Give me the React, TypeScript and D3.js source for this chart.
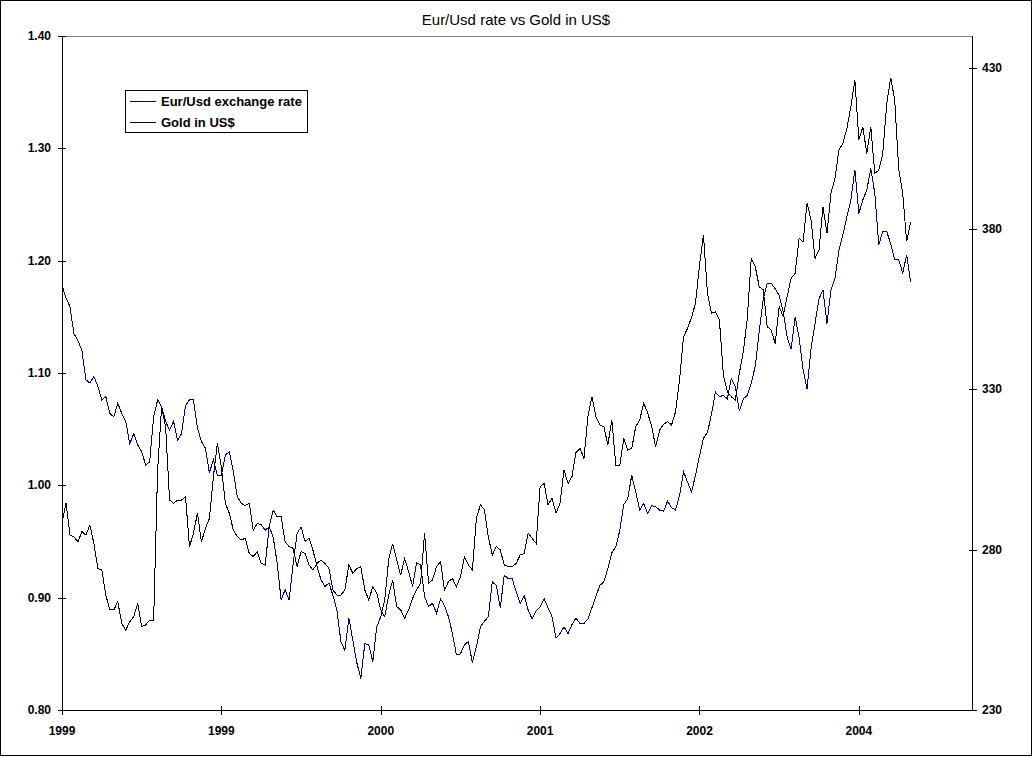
import * as d3 from "d3";

// values, one sample roughly every 4 px (index = sample)
const eurUsd = [
  1.178, 1.167, 1.159, 1.135, 1.129, 1.12, 1.094, 1.091, 1.097, 1.088,
  1.076, 1.079, 1.064, 1.061, 1.073, 1.064, 1.057, 1.037, 1.046, 1.036,
  1.03, 1.018, 1.021, 1.061, 1.076, 1.07, 1.057, 1.049, 1.057, 1.04,
  1.046, 1.071, 1.076, 1.076, 1.051, 1.039, 1.033, 1.011, 1.023, 1.009,
  1.009, 1.027, 1.03, 1.012, 0.99, 0.984, 0.982, 0.984, 0.96, 0.966,
  0.965, 0.96, 0.963, 0.954, 0.931, 0.898, 0.907, 0.898, 0.93, 0.957,
  0.963, 0.95, 0.953, 0.942, 0.928, 0.916, 0.91, 0.913, 0.902, 0.889,
  0.861, 0.853, 0.882, 0.862, 0.842, 0.828, 0.859, 0.858, 0.843, 0.874,
  0.883, 0.898, 0.934, 0.948, 0.934, 0.92, 0.935, 0.923, 0.91, 0.931,
  0.929, 0.901, 0.892, 0.895, 0.886, 0.899, 0.893, 0.883, 0.868, 0.849,
  0.85, 0.858, 0.861, 0.842, 0.856, 0.874, 0.879, 0.883, 0.914, 0.911,
  0.891, 0.92, 0.917, 0.917, 0.905, 0.895, 0.902, 0.889, 0.881, 0.888,
  0.892, 0.899, 0.891, 0.883, 0.864, 0.868, 0.874, 0.868, 0.876, 0.882,
  0.877, 0.877, 0.881, 0.891, 0.901, 0.911, 0.914, 0.926, 0.94, 0.945,
  0.96, 0.983, 0.988, 1.009, 0.994, 0.978, 0.984, 0.975, 0.982, 0.981,
  0.978, 0.977, 0.986, 0.98, 0.978, 0.991, 1.012, 1.003, 0.994, 1.009,
  1.026, 1.042, 1.047, 1.063, 1.083, 1.079, 1.08, 1.077, 1.095, 1.088,
  1.066, 1.077, 1.08, 1.091, 1.106, 1.137, 1.166, 1.18, 1.18, 1.175,
  1.169, 1.155, 1.132, 1.121, 1.15, 1.132, 1.103, 1.086, 1.122, 1.144,
  1.166, 1.174, 1.144, 1.174, 1.184, 1.209, 1.223, 1.239, 1.254, 1.281,
  1.242, 1.254, 1.263, 1.282, 1.26, 1.214, 1.226, 1.226, 1.215, 1.201,
  1.201, 1.189, 1.205, 1.181,
];

const goldUsd = [
  288.2, 294.4, 284.5, 284.0, 282.4, 285.6, 284.5, 287.6, 281.9, 274.1,
  273.6, 265.8, 261.2, 261.2, 263.7, 257.0, 254.9, 257.5, 259.1, 263.2,
  256.0, 256.5, 258.0, 258.0, 304.8, 324.5, 318.3, 295.4, 294.4, 295.4,
  295.4, 296.5, 280.9, 285.1, 291.3, 282.4, 286.6, 289.7, 302.7, 313.1,
  305.8, 294.4, 291.3, 286.1, 284.0, 283.0, 283.5, 278.8, 277.8, 279.3,
  275.7, 275.2, 287.1, 292.3, 290.2, 290.2, 282.4, 280.9, 280.4, 274.7,
  279.3, 278.8, 275.2, 273.6, 275.7, 276.7, 275.7, 274.1, 267.4, 265.8,
  265.8, 267.4, 275.2, 272.6, 274.1, 274.7, 267.4, 264.3, 268.4, 266.4,
  261.2, 259.1, 265.8, 270.5, 262.2, 261.2, 258.6, 261.2, 264.8, 267.4,
  269.5, 285.0, 269.5, 270.5, 274.7, 276.2, 267.4, 270.0, 271.0, 268.4,
  271.5, 277.8, 275.2, 273.6, 289.7, 293.9, 292.5, 284.0, 278.3, 280.9,
  279.9, 275.2, 274.7, 274.7, 275.7, 278.3, 278.8, 285.1, 283.5, 281.9,
  299.6, 300.6, 293.9, 296.0, 291.3, 294.4, 304.8, 300.6, 302.7, 310.2,
  311.5, 308.4, 321.4, 327.6, 321.4, 318.8, 318.3, 312.6, 320.4, 306.3,
  306.3, 314.6, 311.0, 311.5, 318.3, 320.4, 325.5, 322.6, 318.3, 312.0,
  317.2, 319.1, 319.8, 318.8, 323.0, 332.8, 346.3, 348.9, 352.3, 356.7,
  368.6, 378.0, 359.8, 353.6, 354.1, 351.5, 334.4, 329.2, 327.6, 326.6,
  334.9, 341.6, 352.0, 370.7, 368.1, 361.9, 360.9, 349.4, 348.4, 344.2,
  355.7, 352.6, 358.8, 364.5, 366.0, 377.0, 375.9, 387.9, 382.7, 370.7,
  373.3, 386.8, 378.5, 391.0, 395.6, 404.5, 406.6, 411.2, 418.0, 426.3,
  407.6, 411.7, 403.4, 411.7, 397.2, 398.2, 403.4, 419.0, 427.0, 420.1,
  398.5, 391.0, 376.0, 382.0,
];

const xTickLabels = ["1999", "1999", "2000", "2001", "2002", "2004"];
const xTickEvery = 40;
const xSpan = 228.4;
const leftTicks = [0.8, 0.9, 1.0, 1.1, 1.2, 1.3, 1.4];
const rightTicks = [230, 280, 330, 380, 430];
const seriesNames = ["Eur/Usd exchange rate", "Gold in US$"];

const W = 1033;
const H = 757;
const plot = { left: 62, right: 972, top: 36, bottom: 710 };
const font = "'Liberation Sans', Arial, sans-serif";
const navy = "#000080";

export default function App() {
  const x = d3.scaleLinear().domain([0, xSpan]).range([plot.left, plot.right]);
  const yL = d3.scaleLinear().domain([0.8, 1.4]).range([plot.bottom, plot.top]);
  const yR = d3.scaleLinear().domain([230, 440]).range([plot.bottom, plot.top]);

  const eurLine = d3
    .line<number>()
    .x((_, i) => x(i))
    .y((d) => yL(d));
  const goldLine = d3
    .line<number>()
    .x((_, i) => x(i))
    .y((d) => yR(d));

  const xTicks = xTickLabels.map((label, i) => ({ label, v: i * xTickEvery }));

  return (
    <svg
      width={W}
      height={H}
      style={{ position: "absolute", left: 0, top: 0, background: "#fff" }}
      fontFamily={font}
    >
      <rect x={0.5} y={0.5} width={1031} height={755} fill="#fff" stroke="#000" />

      <text x={516} y={25} textAnchor="middle" fontSize={15} fill="#000">
        Eur/Usd rate vs Gold in US$
      </text>

      {/* plot area border */}
      <rect
        x={plot.left + 0.5}
        y={plot.top + 0.5}
        width={plot.right - plot.left}
        height={plot.bottom - plot.top}
        fill="none"
        stroke="#808080"
        shapeRendering="crispEdges"
      />

      {/* series */}
      <path
        d={eurLine(eurUsd) ?? ""}
        fill="none"
        stroke={navy}
        strokeWidth={1}
        shapeRendering="crispEdges"
      />
      <path
        d={goldLine(goldUsd) ?? ""}
        fill="none"
        stroke="#000"
        strokeWidth={1}
        shapeRendering="crispEdges"
      />

      {/* left axis */}
      <g shapeRendering="crispEdges">
        <line x1={plot.left + 0.5} x2={plot.left + 0.5} y1={plot.top} y2={plot.bottom + 1} stroke="#000" />
        {leftTicks.map((t) => (
          <g key={t}>
            <line
              x1={plot.left - 4}
              x2={plot.left + 4}
              y1={Math.round(yL(t)) + 0.5}
              y2={Math.round(yL(t)) + 0.5}
              stroke="#000"
            />
            <text
              x={51}
              y={yL(t) + 4}
              textAnchor="end"
              fontSize={12}
              fontWeight="bold"
              shapeRendering="auto"
            >
              {t.toFixed(2)}
            </text>
          </g>
        ))}
      </g>

      {/* right axis */}
      <g shapeRendering="crispEdges">
        <line x1={plot.right + 0.5} x2={plot.right + 0.5} y1={plot.top} y2={plot.bottom + 1} stroke="#000" />
        {rightTicks.map((t) => (
          <g key={t}>
            <line
              x1={plot.right - 3}
              x2={plot.right + 5}
              y1={Math.round(yR(t)) + 0.5}
              y2={Math.round(yR(t)) + 0.5}
              stroke="#000"
            />
            <text x={982} y={yR(t) + 4} fontSize={12} fontWeight="bold">
              {t}
            </text>
          </g>
        ))}
      </g>

      {/* bottom axis */}
      <g shapeRendering="crispEdges">
        <line x1={plot.left} x2={plot.right + 1} y1={plot.bottom + 0.5} y2={plot.bottom + 0.5} stroke="#000" />
        {xTicks.map((t, i) => (
          <g key={i}>
            <line
              x1={Math.round(x(t.v)) + 0.5}
              x2={Math.round(x(t.v)) + 0.5}
              y1={plot.bottom - 4}
              y2={plot.bottom + 5}
              stroke="#000"
            />
            <text x={x(t.v)} y={735} textAnchor="middle" fontSize={12} fontWeight="bold">
              {t.label}
            </text>
          </g>
        ))}
      </g>

      {/* legend */}
      <g>
        <rect x={125.5} y={90.5} width={182} height={42} fill="#fff" stroke="#000" shapeRendering="crispEdges" />
        {seriesNames.map((name, i) => (
          <g key={name} transform={`translate(0,${i * 21})`}>
            <line x1={130} x2={156} y1={101.5} y2={101.5} stroke={i === 0 ? navy : "#000"} shapeRendering="crispEdges" />
            <text x={161} y={106} fontSize={13} fontWeight="bold">
              {name}
            </text>
          </g>
        ))}
      </g>
    </svg>
  );
}
